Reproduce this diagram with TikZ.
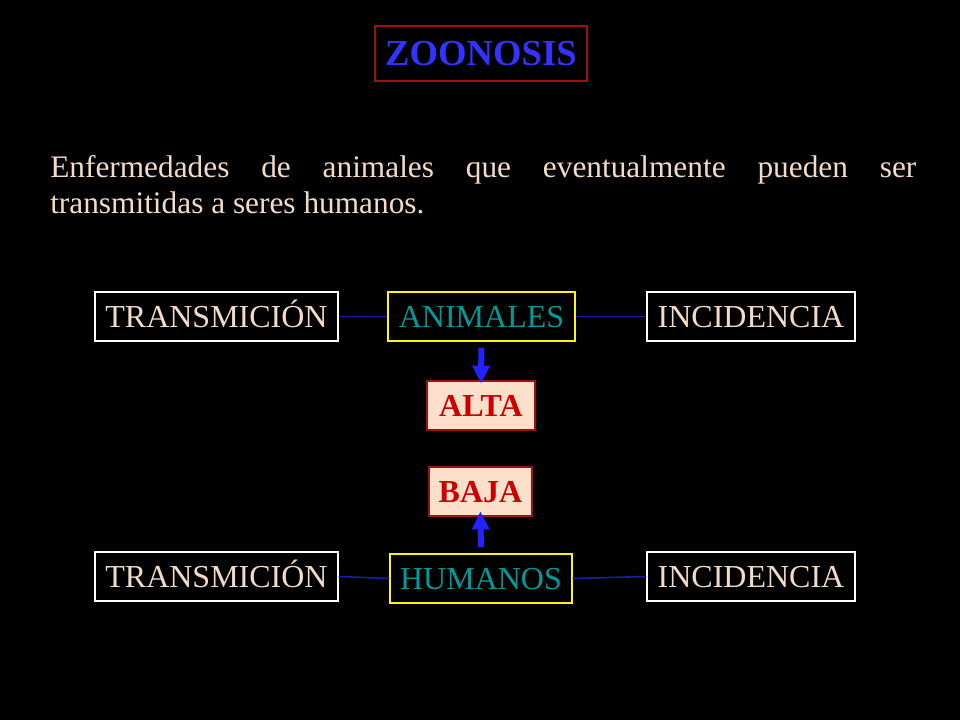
\documentclass[tikz,border=0pt]{standalone}
\usepackage{fontspec}
\setmainfont{Liberation Serif}
\usetikzlibrary{arrows.meta}
\definecolor{beige}{HTML}{F2DCC8}
\definecolor{teal}{HTML}{009A9A}
\definecolor{titleblue}{HTML}{3333FF}
\definecolor{darkred}{HTML}{A01010}
\definecolor{peach}{HTML}{FCE0CC}
\definecolor{levelred}{HTML}{CC0000}
\definecolor{arrowblue}{HTML}{2222FF}
\definecolor{lineblue}{HTML}{1C1CA8}
\tikzset{
	caja/.style={draw=white, line width=1.1pt, text=beige, minimum height=36.75pt,
		inner sep=0pt, text height=16pt, text depth=0pt, font=\fontsize{24}{28}\selectfont},
	grupo/.style={caja, draw=yellow!90!white, text=teal},
	nivel/.style={caja, draw=darkred, fill=peach, text=levelred, font=\fontsize{24}{28}\selectfont\bfseries},
	enlace/.style={draw=lineblue, line width=1.2pt},
	flecha/.style={draw=arrowblue, line width=4.5pt, -{Triangle[width=12.5pt,length=13.5pt]}},
}
\begin{document}
\begin{tikzpicture}[x=0.75pt, y=-0.75pt]
	\fill[black] (0,0) rectangle (960,720);
	\useasboundingbox (0,0) rectangle (960,720);
	% titulo
	\node[draw=darkred, line width=1pt, text=titleblue, minimum width=159pt, minimum height=41.25pt,
		inner sep=0pt, text height=18.5pt, text depth=0pt, font=\fontsize{27.5}{30}\selectfont\bfseries]
		(zoonosis) at (481,53.5) {ZOONOSIS};
	\node[anchor=base west, text width=649.5pt, align=justify, inner sep=0pt, text=beige,
		font=\fontsize{23.5}{27}\selectfont] (definicion) at (50,178)
		{\hyphenpenalty=10000\relax Enfermedades de animales que eventualmente pueden ser\linebreak transmitidas a seres humanos.};
	% fila animales
	\node[caja, minimum width=182.25pt] (transA) at (216.5,316.5) {TRANSMICIÓN};
	\node[grupo, minimum width=140.25pt] (animales) at (481.5,316.5) {ANIMALES};
	\node[caja, minimum width=156pt] (incidA) at (751,316.5) {INCIDENCIA};
	\node[nivel, minimum width=81pt] (alta) at (481,405.5) {ALTA};
	% fila humanos
	\node[nivel, minimum width=77.25pt] (baja) at (480.5,491.5) {BAJA};
	\node[caja, minimum width=182.25pt] (transH) at (216.5,576.5) {TRANSMICIÓN};
	\node[grupo, minimum width=136.5pt] (humanos) at (481,578.5) {HUMANOS};
	\node[caja, minimum width=156pt] (incidH) at (751,576.5) {INCIDENCIA};
	% enlaces
	\draw[enlace] (transA.east) -- (animales.west);
	\draw[enlace] (animales.east) -- (incidA.west);
	\draw[enlace] (transH.east) -- (humanos.west);
	\draw[enlace] (humanos.east) -- (incidH.west);
	\draw[flecha, shorten <=4.5pt, shorten >=-2.5pt] (animales.south) -- (alta.north);
	\draw[flecha, shorten <=4.5pt, shorten >=-4pt] (humanos.north) -- (baja.south);
\end{tikzpicture}
\end{document}
